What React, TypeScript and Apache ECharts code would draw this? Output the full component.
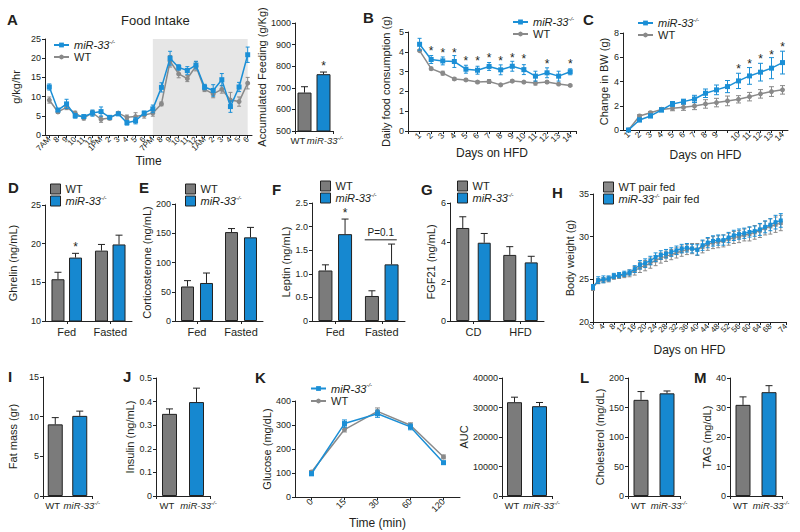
import React, { useEffect, useRef } from 'react';
import * as echarts from 'echarts';

const FONT = '"Liberation Sans", Arial, Helvetica, sans-serif';
const TXT = '#231f20';
const GRAY = '#7b7b7b';
const BLUE = '#1688d0';
const LGRAY = '#8a8a8a';
const LBLUE = '#1b8fd6';
const EDGE = '#222222';

// ---------- A: food intake ----------
const hours = ['7AM', '8', '9', '10', '11', '12', '1PM', '2', '3', '4', '5', '6', '7PM', '8', '9', '10', '11', '12', '1AM', '2', '3', '4', '5', '6'];
const aMir = [12.5, 6.5, 8.1, 5.0, 4.8, 5.7, 6.1, 4.6, 5.5, 3.2, 3.7, 5.7, 6.8, 12.4, 20.0, 17.6, 16.8, 18.2, 12.5, 11.6, 14.4, 7.4, 12.5, 20.9];
const aMirErr = [0.8, 0.3, 1.2, 0.6, 0.4, 0.8, 1.2, 0.3, 0.4, 0.6, 0.8, 0.5, 1.0, 1.2, 1.8, 0.7, 1.0, 1.0, 0.7, 1.5, 1.6, 1.5, 1.2, 2.0];
const aWt = [9.1, 6.0, 7.2, 5.7, 4.4, 5.8, 4.1, 4.4, 5.7, 4.6, 4.8, 5.2, 5.7, 8.1, 19.2, 15.9, 14.7, 17.9, 11.9, 10.7, 11.9, 9.1, 8.7, 13.5];
const aWtErr = [0.8, 0.4, 0.6, 0.5, 0.5, 0.6, 0.8, 0.5, 0.4, 0.6, 1.0, 0.8, 0.8, 0.5, 1.5, 1.0, 0.8, 1.2, 0.6, 1.0, 1.0, 2.0, 1.2, 1.5];
const darkStart = 12;
const darkEnd = 23;

// accumulated feeding
const pairCats = ['WT', 'miR'];
const accVals = [678, 763];
const accErr = [27, 10];
const accStar = 815;

// ---------- B ----------
const bDays = [1, 2, 3, 4, 5, 6, 7, 8, 9, 10, 11, 12, 13, 14];
const bMir = [4.38, 3.61, 3.54, 3.51, 3.12, 3.07, 3.26, 3.09, 3.27, 3.1, 2.77, 2.94, 2.77, 2.99];
const bMirErr = [0.3, 0.2, 0.2, 0.3, 0.2, 0.2, 0.2, 0.25, 0.25, 0.25, 0.25, 0.25, 0.25, 0.15];
const bWt = [4.06, 3.15, 2.92, 2.63, 2.58, 2.47, 2.5, 2.33, 2.52, 2.47, 2.42, 2.47, 2.37, 2.3];
const bWtErr = [0.05, 0.07, 0.1, 0.07, 0.05, 0.07, 0.1, 0.05, 0.07, 0.05, 0.1, 0.07, 0.05, 0.05];
const bStarDays = [2, 3, 4, 5, 6, 7, 8, 9, 10, 12, 14];
const bStarY = [4.2, 4.1, 4.1, 3.7, 3.7, 3.85, 3.7, 3.85, 3.78, 3.52, 3.52];

// ---------- C ----------
const cDays = ['1', '2', '3', '4', '5', '6', '7', '8', '9', '', '10', '11', '12', '13', '14'];
const cMir = [0, 0.83, 1.16, 1.65, 2.15, 2.34, 2.56, 3.03, 3.31, 3.58, 4.05, 4.46, 4.77, 5.1, 5.56];
const cMirErr = [0, 0.15, 0.15, 0.15, 0.2, 0.2, 0.3, 0.35, 0.4, 0.5, 0.63, 0.69, 0.73, 0.87, 0.94];
const cWt = [0, 1.16, 1.43, 1.7, 1.79, 1.87, 1.98, 2.15, 2.26, 2.4, 2.53, 2.75, 2.98, 3.17, 3.31];
const cWtErr = [0, 0.1, 0.1, 0.15, 0.2, 0.25, 0.3, 0.35, 0.35, 0.4, 0.3, 0.35, 0.35, 0.4, 0.35];
const cStarIdx = [10, 11, 12, 13, 14];
const cStarY = [5.25, 5.65, 6.1, 6.4, 7.1];

// ---------- D-G ----------
const fedCats = ['Fed', 'Fasted'];
const dWt = [15.4, 19.1];
const dWtErr = [0.9, 0.8];
const dMir = [18.2, 19.9];
const dMirErr = [0.55, 1.2];
const dStar = 20.0;

const eWt = [59, 152];
const eWtErr = [10, 6];
const eMir = [65, 143];
const eMirErr = [17, 17];

const fWt = [1.07, 0.53];
const fWtErr = [0.12, 0.11];
const fMir = [1.84, 1.2];
const fMirErr = [0.32, 0.43];
const fStar = 2.36;
const fP = 1.72;

const dietCats = ['CD', 'HFD'];
const gWt = [4.73, 3.36];
const gWtErr = [0.57, 0.42];
const gMir = [3.98, 2.98];
const gMirErr = [0.47, 0.31];

// ---------- H ----------
const hDays = [0, 2, 4, 6, 8, 10, 12, 14, 16, 18, 20, 22, 24, 26, 28, 30, 32, 34, 36, 38, 40, 42, 44, 46, 48, 50, 52, 54, 56, 58, 60, 62, 64, 66, 68, 70, 72];
const hMir = [24.1, 24.9, 25.0, 25.1, 25.4, 25.5, 25.65, 25.8, 26.2, 26.7, 26.9, 27.2, 27.6, 27.85, 28.0, 28.2, 28.4, 28.6, 28.7, 28.6, 28.45, 29.0, 29.3, 29.5, 29.6, 29.6, 29.9, 30.15, 30.3, 30.4, 30.55, 30.65, 30.85, 31.15, 31.4, 31.7, 31.9];
const hMirErr = [0.3, 0.4, 0.4, 0.3, 0.3, 0.3, 0.3, 0.3, 0.4, 0.5, 0.5, 0.5, 0.5, 0.5, 0.5, 0.5, 0.5, 0.5, 0.5, 0.5, 0.6, 0.6, 0.6, 0.6, 0.6, 0.6, 0.6, 0.6, 0.6, 0.6, 0.6, 0.6, 0.7, 0.7, 0.7, 0.8, 0.8];
const hWt = [24.0, 24.8, 24.9, 25.0, 25.3, 25.4, 25.5, 25.7, 26.0, 26.4, 26.6, 26.9, 27.2, 27.5, 27.7, 27.9, 28.1, 28.3, 28.5, 28.6, 28.5, 28.8, 29.1, 29.3, 29.4, 29.5, 29.7, 29.9, 30.0, 30.2, 30.3, 30.5, 30.7, 31.0, 31.2, 31.4, 31.6];
const hWtErr = [0.3, 0.3, 0.3, 0.3, 0.3, 0.3, 0.3, 0.4, 0.5, 0.6, 0.6, 0.6, 0.6, 0.6, 0.6, 0.6, 0.6, 0.6, 0.6, 0.6, 0.7, 0.7, 0.7, 0.7, 0.7, 0.7, 0.7, 0.7, 0.7, 0.7, 0.8, 0.8, 0.8, 0.8, 0.9, 0.9, 0.9];

// ---------- I, J ----------
const iVals = [9.03, 10.1];
const iErr = [0.85, 0.6];
const jVals = [0.348, 0.398];
const jErr = [0.021, 0.059];

// ---------- K ----------
const kTimes = ['0', '15', '30', '60', '120'];
const kMir = [97, 306, 347, 292, 143];
const kMirErr = [8, 15, 15, 12, 6];
const kWt = [104, 281, 357, 299, 167];
const kWtErr = [6, 10, 14, 10, 8];
const aucVals = [31800, 30450];
const aucErr = [1700, 1250];

// ---------- L, M ----------
const lVals = [163, 174];
const lErr = [14, 4];
const mVals = [30.9, 35.2];
const mErr = [2.7, 2.2];

// ---------- helpers ----------
const rich = (fs: number, wPad = 5, jPad = 4) => ({
  n: { fontSize: fs, fontFamily: FONT, color: TXT, lineHeight: fs + 1 },
  w: { fontSize: fs, fontFamily: FONT, color: TXT, lineHeight: fs + 1, padding: [0, wPad, 0, 0] },
  i: { fontSize: fs, fontFamily: FONT, color: TXT, fontStyle: 'italic', lineHeight: fs + 1 },
  j: { fontSize: fs, fontFamily: FONT, color: TXT, fontStyle: 'italic', lineHeight: fs + 1, padding: [0, 0, 0, jPad] },
  s: { fontSize: Math.round(fs * 0.58), fontFamily: FONT, color: TXT, fontStyle: 'italic', verticalAlign: 'top' },
});
const lab = (s: string) => {
  if (s.startsWith('miR')) {
    const rest = s.slice(3);
    return '{i|miR-33}{s|-/-}' + (rest ? '{n|' + rest + '}' : '');
  }
  return '{n|' + s + '}';
};
// axis labels under narrow two-bar panels: nudged apart
const pairLab = (s: string) => (s.startsWith('miR') ? '{j|miR-33}{s|-/-}' : '{w|' + s + '}');

const grids = [
  { left: 45, top: 39, width: 207, height: 96 }, // 0 A
  { left: 295, top: 23, width: 38, height: 108 }, // 1 A acc
  { left: 408, top: 32, width: 168, height: 99 }, // 2 B
  { left: 623, top: 33, width: 165, height: 97 }, // 3 C
  { left: 45, top: 205, width: 87, height: 116 }, // 4 D
  { left: 175, top: 204, width: 88, height: 117 }, // 5 E
  { left: 312, top: 203, width: 93, height: 118 }, // 6 F
  { left: 450, top: 203, width: 94, height: 118 }, // 7 G
  { left: 593, top: 194, width: 193, height: 128 }, // 8 H
  { left: 43, top: 377, width: 49, height: 119 }, // 9 I
  { left: 156, top: 378, width: 54, height: 118 }, // 10 J
  { left: 295, top: 401, width: 165, height: 96 }, // 11 K
  { left: 502, top: 378, width: 50, height: 118 }, // 12 AUC
  { left: 628, top: 378, width: 52, height: 118 }, // 13 L
  { left: 730, top: 378, width: 52, height: 118 }, // 14 M
].map((g) => ({ ...g, containLabel: false, outerBoundsMode: 'none', show: false }));

const axisLine = { show: true, onZero: false, lineStyle: { color: EDGE, width: 1 } };
const tickStyle = { color: EDGE, width: 1 };

function yAx(gi: number, min: number, max: number, interval: number, name: string, nameGap: number, formatter?: any) {
  return {
    type: 'value', gridIndex: gi, min, max, interval, name, nameLocation: 'middle', nameGap, nameRotate: 90,
    nameTextStyle: { fontSize: 11, fontFamily: FONT, color: TXT },
    axisLine, axisTick: { show: true, length: 3, lineStyle: tickStyle },
    axisLabel: { fontSize: 9, margin: 4, color: TXT, fontFamily: FONT, formatter: formatter || ((v: number) => String(v)) },
    splitLine: { show: false },
  };
}

function xCat(gi: number, data: string[], o: any = {}) {
  return {
    type: 'category', gridIndex: gi, data, boundaryGap: true,
    name: o.name || '', nameLocation: 'middle', nameGap: o.nameGap || 15,
    nameTextStyle: { fontSize: 12, fontFamily: FONT, color: TXT },
    axisLine,
    axisTick: o.tickInterval !== undefined
      ? { show: true, length: 3, lineStyle: tickStyle, interval: o.tickInterval }
      : { show: true, length: 3, lineStyle: tickStyle, alignWithLabel: true, interval: 0 },
    axisLabel: {
      interval: 0, rotate: o.rotate || 0, fontSize: o.fontSize || 10, margin: o.margin || 4, color: TXT, fontFamily: FONT,
      formatter: o.rich ? (v: string) => pairLab(v) : undefined,
      rich: o.rich ? rich(o.fontSize || 10, o.wPad ?? 5, o.jPad ?? 4) : undefined,
    },
    splitLine: { show: false },
  };
}

function xVal(gi: number, min: number, max: number, interval: number, o: any = {}) {
  return {
    type: 'value', gridIndex: gi, min, max, interval,
    name: o.name || '', nameLocation: 'middle', nameGap: o.nameGap || 15,
    nameTextStyle: { fontSize: 12, fontFamily: FONT, color: TXT },
    axisLine, axisTick: { show: true, length: 3, lineStyle: tickStyle },
    axisLabel: { rotate: 45, fontSize: o.fontSize || 8.5, margin: 3, color: TXT, fontFamily: FONT, formatter: o.formatter, showMaxLabel: true },
    splitLine: { show: false },
  };
}

function errBars(gi: number, pts: number[][], color: string, o: any) {
  return {
    type: 'custom', xAxisIndex: gi, yAxisIndex: gi, data: pts, silent: true, z: o.z || 4,
    encode: { x: 0, y: 1 },
    renderItem: (_p: any, api: any) => {
      const x = api.value(0), v = api.value(1), e = api.value(2);
      const top = api.coord([x, v + e]);
      const bot = api.coord([x, o.both ? v - e : v]);
      const cx = top[0] + (o.off || 0);
      const h = o.cap / 2;
      const st = { stroke: color, lineWidth: o.lw || 1, fill: null };
      const ch: any[] = [
        { type: 'line', shape: { x1: cx, y1: top[1], x2: cx, y2: bot[1] }, style: st },
        { type: 'line', shape: { x1: cx - h, y1: top[1], x2: cx + h, y2: top[1] }, style: st },
      ];
      if (o.both) ch.push({ type: 'line', shape: { x1: cx - h, y1: bot[1], x2: cx + h, y2: bot[1] }, style: st });
      return { type: 'group', children: ch };
    },
  };
}

function starSeries(gi: number, pts: number[][], off = 0) {
  return {
    type: 'custom', xAxisIndex: gi, yAxisIndex: gi, data: pts, silent: true, z: 6,
    encode: { x: 0, y: 1 },
    renderItem: (_p: any, api: any) => {
      const c = api.coord([api.value(0), api.value(1)]);
      return {
        type: 'text', x: c[0] + off, y: c[1] + 3,
        style: { text: '*', fontSize: 12, fontFamily: FONT, fill: TXT, align: 'center', verticalAlign: 'middle' },
      };
    },
  };
}

function line(name: string, gi: number, data: any[], color: string, symbol: string, z: number, extra: any = {}) {
  return {
    type: 'line', name, xAxisIndex: gi, yAxisIndex: gi, data, symbol, symbolSize: 5, showSymbol: true,
    lineStyle: { color, width: 1.5 }, itemStyle: { color }, z, silent: true, ...extra,
  };
}

function grouped(prefix: string, gi: number, wt: number[], wtE: number[], mir: number[], mirE: number[], bw: number, gap: number) {
  const d = (bw + (bw * gap) / 100) / 2;
  return [
    { type: 'bar', name: prefix + '|WT', xAxisIndex: gi, yAxisIndex: gi, data: wt, barWidth: bw, barGap: gap + '%', itemStyle: { color: GRAY, borderColor: EDGE, borderWidth: 1 }, z: 2, silent: true },
    { type: 'bar', name: prefix + '|miR', xAxisIndex: gi, yAxisIndex: gi, data: mir, barWidth: bw, barGap: gap + '%', itemStyle: { color: BLUE, borderColor: EDGE, borderWidth: 1 }, z: 2, silent: true },
    errBars(gi, wt.map((v, i) => [i, v, wtE[i]]), EDGE, { off: -d, cap: 7, both: false, z: 3 }),
    errBars(gi, mir.map((v, i) => [i, v, mirE[i]]), EDGE, { off: d, cap: 7, both: false, z: 3 }),
  ];
}

function pair(gi: number, vals: number[], errs: number[], bw: number) {
  return [
    {
      type: 'bar', xAxisIndex: gi, yAxisIndex: gi, barWidth: bw, silent: true, z: 2,
      itemStyle: { borderColor: EDGE, borderWidth: 1 },
      data: vals.map((v, i) => ({ value: v, itemStyle: { color: i === 0 ? GRAY : BLUE, borderColor: EDGE, borderWidth: 1 } })),
    },
    errBars(gi, vals.map((v, i) => [i, v, errs[i]]), EDGE, { cap: 7, both: false, z: 3 }),
  ];
}

function legend(names: string[], left: number, top: number, box: boolean, rowH = 12) {
  const base: any = {
    data: names, left, top, orient: 'vertical', selectedMode: false, itemGap: 0, padding: 0,
    formatter: (n: string) => lab(n.split('|')[1]),
    textStyle: { fontSize: 11, fontFamily: FONT, color: TXT, lineHeight: rowH, rich: rich(11) },
  };
  if (box) {
    base.icon = 'rect';
    base.itemWidth = 10;
    base.itemHeight = 10;
    base.itemStyle = { borderColor: EDGE, borderWidth: 1 };
  } else {
    base.itemWidth = 15;
    base.itemHeight = 6;
  }
  return base;
}

function buildOption() {
  const series: any[] = [];
  // A
  series.push(errBars(0, aWt.map((v, i) => [i, v, aWtErr[i]]), LGRAY, { cap: 4, both: true, z: 2 }));
  series.push(line('A|WT', 0, aWt, LGRAY, 'circle', 2, {
    markArea: { silent: true, itemStyle: { color: '#e6e6e6' }, data: [[{ xAxis: darkStart, yAxis: 25 }, { xAxis: darkEnd, yAxis: 0 }]] },
  }));
  series.push(errBars(0, aMir.map((v, i) => [i, v, aMirErr[i]]), LBLUE, { cap: 4, both: true, z: 3 }));
  series.push(line('A|miR', 0, aMir, LBLUE, 'rect', 3));
  // accumulated feeding
  series.push(...pair(1, accVals, accErr, 14));
  series.push(starSeries(1, [[1, accStar]]));
  // B
  series.push(errBars(2, bWt.map((v, i) => [bDays[i], v, bWtErr[i]]), LGRAY, { cap: 4, both: true, z: 2 }));
  series.push(line('B|WT', 2, bWt.map((v, i) => [bDays[i], v]), LGRAY, 'circle', 2));
  series.push(errBars(2, bMir.map((v, i) => [bDays[i], v, bMirErr[i]]), LBLUE, { cap: 4, both: true, z: 3 }));
  series.push(line('B|miR', 2, bMir.map((v, i) => [bDays[i], v]), LBLUE, 'rect', 3));
  series.push(starSeries(2, bStarDays.map((d, i) => [d, bStarY[i]])));
  // C
  series.push(errBars(3, cWt.map((v, i) => [i, v, cWtErr[i]]), LGRAY, { cap: 5, both: true, z: 2 }));
  series.push(line('C|WT', 3, cWt, LGRAY, 'circle', 2));
  series.push(errBars(3, cMir.map((v, i) => [i, v, cMirErr[i]]), LBLUE, { cap: 5, both: true, z: 3 }));
  series.push(line('C|miR', 3, cMir, LBLUE, 'rect', 3));
  series.push(starSeries(3, cStarIdx.map((d, i) => [d, cStarY[i]])));
  // D-G
  series.push(...grouped('D', 4, dWt, dWtErr, dMir, dMirErr, 13, 35));
  series.push(starSeries(4, [[0, dStar]], 8.8));
  series.push(...grouped('E', 5, eWt, eWtErr, eMir, eMirErr, 13, 46));
  series.push(...grouped('F', 6, fWt, fWtErr, fMir, fMirErr, 14, 40));
  series.push(starSeries(6, [[0, fStar]], 9.8));
  series.push({
    type: 'custom', xAxisIndex: 6, yAxisIndex: 6, data: [[1, fP]], silent: true, z: 6, encode: { x: 0, y: 1 },
    renderItem: (_p: any, api: any) => {
      const c = api.coord([api.value(0), api.value(1)]);
      return {
        type: 'group', children: [
          { type: 'line', shape: { x1: c[0] - 17, y1: c[1], x2: c[0] + 15, y2: c[1] }, style: { stroke: EDGE, lineWidth: 1 } },
          { type: 'text', x: c[0] - 1, y: c[1] - 7, style: { text: 'P=0.1', fontSize: 10, fontFamily: FONT, fill: TXT, align: 'center', verticalAlign: 'middle' } },
        ],
      };
    },
  });
  series.push(...grouped('G', 7, gWt, gWtErr, gMir, gMirErr, 13, 65));
  // H
  series.push(errBars(8, hWt.map((v, i) => [hDays[i], v, hWtErr[i]]), LGRAY, { cap: 4, both: true, z: 2 }));
  series.push(line('H|WT pair fed', 8, hWt.map((v, i) => [hDays[i], v]), LGRAY, 'rect', 2, { symbolSize: 4, lineStyle: { color: LGRAY, width: 1.2 } }));
  series.push(errBars(8, hMir.map((v, i) => [hDays[i], v, hMirErr[i]]), LBLUE, { cap: 4, both: true, z: 3 }));
  series.push(line('H|miR pair fed', 8, hMir.map((v, i) => [hDays[i], v]), LBLUE, 'rect', 3, { symbolSize: 4, lineStyle: { color: LBLUE, width: 1.2 } }));
  // I, J
  series.push(...pair(9, iVals, iErr, 15));
  series.push(...pair(10, jVals, jErr, 15));
  // K
  series.push(errBars(11, kWt.map((v, i) => [i, v, kWtErr[i]]), LGRAY, { cap: 5, both: true, z: 2 }));
  series.push(line('K|WT', 11, kWt, LGRAY, 'circle', 2));
  series.push(errBars(11, kMir.map((v, i) => [i, v, kMirErr[i]]), LBLUE, { cap: 5, both: true, z: 3 }));
  series.push(line('K|miR', 11, kMir, LBLUE, 'rect', 3));
  series.push(...pair(12, aucVals, aucErr, 15));
  // L, M
  series.push(...pair(13, lVals, lErr, 15));
  series.push(...pair(14, mVals, mErr, 15));

  const dec1 = (v: number) => (v === 0 ? '0' : v.toFixed(1));
  const dayFmt = (v: number) => (Number.isInteger(v) && v >= 1 ? String(v) : '');
  const middleTick = (i: number) => i === 1;

  const xAxis = [
    xCat(0, hours, { rotate: 45, fontSize: 8, margin: 3, name: 'Time', nameGap: 20 }),
    xCat(1, pairCats, { rich: true, fontSize: 9.5, tickInterval: middleTick, wPad: 13, jPad: 3 }),
    xVal(2, 0, 14.5, 1, { name: 'Days on HFD', nameGap: 13, formatter: dayFmt }),
    xCat(3, cDays, { rotate: 45, fontSize: 8.5, margin: 3, name: 'Days on HFD', nameGap: 19 }),
    xCat(4, fedCats, { fontSize: 11, margin: 5 }),
    xCat(5, fedCats, { fontSize: 11, margin: 5 }),
    xCat(6, fedCats, { fontSize: 11, margin: 5 }),
    xCat(7, dietCats, { fontSize: 11, margin: 5 }),
    xVal(8, 0, 74, 4, { name: 'Days on HFD', nameGap: 22, fontSize: 8 }),
    xCat(9, pairCats, { rich: true, fontSize: 9.5, tickInterval: middleTick }),
    xCat(10, pairCats, { rich: true, fontSize: 9.5, tickInterval: middleTick }),
    xCat(11, kTimes, { rotate: 45, fontSize: 9, margin: 3, name: 'Time (min)', nameGap: 16 }),
    xCat(12, pairCats, { rich: true, fontSize: 9.5, tickInterval: middleTick }),
    xCat(13, pairCats, { rich: true, fontSize: 9.5, tickInterval: middleTick }),
    xCat(14, pairCats, { rich: true, fontSize: 9.5, tickInterval: middleTick }),
  ];
  const yAxis = [
    yAx(0, 0, 25, 5, 'g/kg/hr', 24),
    yAx(1, 500, 1000, 100, 'Accumulated Feeding (g/Kg)', 24),
    yAx(2, 0, 5, 1, 'Daily food consumption (g)', 17),
    yAx(3, 0, 8, 2, 'Change in BW (g)', 14),
    yAx(4, 10, 25, 5, 'Ghrelin (ng/mL)', 27),
    yAx(5, 0, 200, 50, 'Corticosterone (ng/mL)', 21),
    yAx(6, 0, 2.5, 0.5, 'Leptin (ng/mL)', 19, dec1),
    yAx(7, 0, 6, 2, 'FGF21 (ng/mL)', 14),
    yAx(8, 20, 35, 5, 'Body weight (g)', 17),
    yAx(9, 0, 15, 5, 'Fat mass (gr)', 25),
    yAx(10, 0, 0.5, 0.1, 'Insulin (ng/mL)', 17, dec1),
    yAx(11, 0, 400, 100, 'Glucose (mg/dL)', 22),
    yAx(12, 0, 40000, 10000, 'AUC', 29),
    yAx(13, 0, 200, 50, 'Cholesterol (mg/dL)', 20),
    yAx(14, 0, 40, 10, 'TAG (mg/dL)', 17),
  ];

  const legends = [
    legend(['A|miR', 'A|WT'], 53, 39, false),
    legend(['B|miR', 'B|WT'], 512, 16, false, 11),
    legend(['C|miR', 'C|WT'], 637, 17, false, 11),
    legend(['D|WT', 'D|miR'], 50, 183, true, 11),
    legend(['E|WT', 'E|miR'], 185, 183, true, 11),
    legend(['F|WT', 'F|miR'], 320, 180, true, 12),
    legend(['G|WT', 'G|miR'], 457, 180, true, 12),
    legend(['H|WT pair fed', 'H|miR pair fed'], 603, 181, true, 11),
    legend(['K|miR', 'K|WT'], 310, 382, false, 13),
  ];

  const letters: [string, number, number][] = [
    ['A', 7, 12], ['B', 363, 10], ['C', 583, 12], ['D', 8, 180], ['E', 139, 180], ['F', 272, 182],
    ['G', 421, 182], ['H', 552, 185], ['I', 8, 369], ['J', 123, 369], ['K', 255, 370], ['L', 580, 370], ['M', 694, 370],
  ];

  return {
    animation: false,
    backgroundColor: '#ffffff',
    textStyle: { fontFamily: FONT },
    grid: grids,
    xAxis,
    yAxis,
    legend: legends,
    series,
    graphic: {
      elements: [
        ...letters.map(([t, x, y]) => ({
          type: 'text', left: x, top: y, silent: true,
          style: { text: t, fontSize: 15, fontWeight: 'bold', fontFamily: FONT, fill: TXT },
        })),
        {
          type: 'text', left: 121, top: 14, silent: true,
          style: { text: 'Food Intake', fontSize: 13, fontFamily: FONT, fill: TXT },
        },
      ],
    },
  };
}

export default function App() {
  const ref = useRef<HTMLDivElement>(null);
  useEffect(() => {
    document.body.style.margin = '0';
    const chart = echarts.init(ref.current!, null, { renderer: 'svg', width: 800, height: 532 });
    chart.setOption(buildOption() as any);
    return () => chart.dispose();
  }, []);
  return <div ref={ref} style={{ width: 800, height: 532, background: '#fff' }} />;
}
